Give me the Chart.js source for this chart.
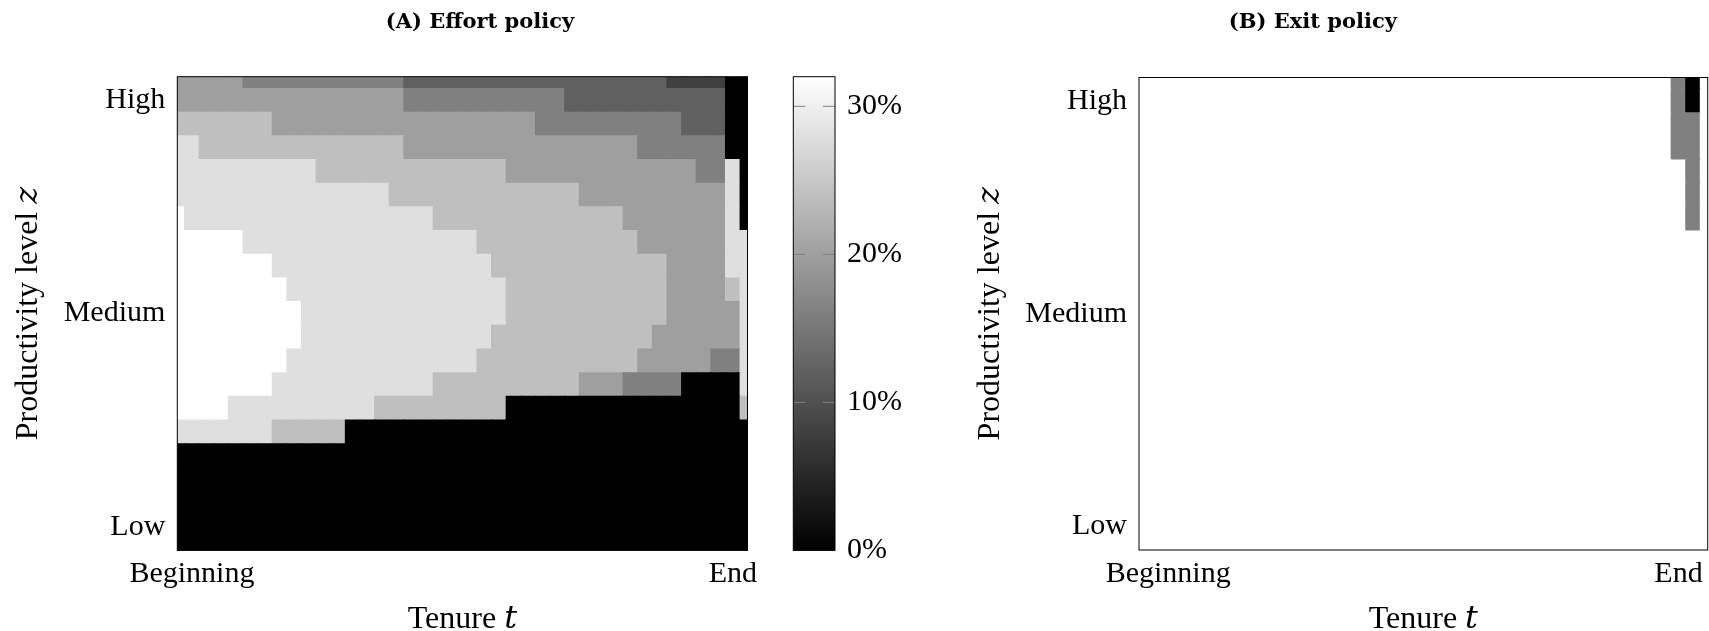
<!DOCTYPE html>
<html>
<head>
<meta charset="utf-8">
<script src="https://cdn.jsdelivr.net/npm/chart.js@4.4.1/dist/chart.umd.min.js"></script>
<style>
  html, body { margin: 0; padding: 0; background: #ffffff; width: 1709px; height: 631px; overflow: hidden; }
  canvas { position: absolute; top: 0; }
  #chartA { left: 0; z-index: 1; }
  #chartB { left: 918px; z-index: 2; }
  #colorbar { left: 760px; z-index: 3; }
</style>
</head>
<body>
<canvas id="chartA" width="960" height="631"></canvas>
<canvas id="chartB" width="791" height="631"></canvas>
<canvas id="colorbar" width="180" height="631"></canvas>
<script>
// ---------------- data ----------------
const tenure = [0,1,2,3,4,5,6,7,8,9,10,11,12,13,14,15,16,17,18,19,20,21,22,23,24,25,26,27,28,29,30,31,32,33,34,35,36,37,38,39];
const productivity = [0,1,2,3,4,5,6,7,8,9,10,11,12,13,14,15,16,17,18,19,20];

const productivityTickValues = [1, 10, 19];
const productivityTickLabels = ['Low', 'Medium', 'High'];
const tenureTickValuesA = [1, 38];
const tenureTickValuesB = [2, 37];
const tenureTickLabels = ['Beginning', 'End'];

const colorbarLimits = [0, 32];          // effort, percent
const colorbarTicks = [0, 10, 20, 30];
const exitLimits = [0, 1];

// Effort policy (percent), one array per productivity level z (20 = top)
const effortZ20 = [20,20,20,20,20,16,16,16,16,16, 16,16,16,16,16,16,12,12,12,12, 12,12,12,12,12,12,12,12,12,12, 12,12,12,12,8,8,8,8,0,0];
const effortZ19 = [20,20,20,20,20,20,20,20,20,20, 20,20,20,20,20,20,16,16,16,16, 16,16,16,16,16,16,16,12,12,12, 12,12,12,12,12,12,12,12,0,0];
const effortZ18 = [24,24,24,24,24,24,24,20,20,20, 20,20,20,20,20,20,20,20,20,20, 20,20,20,20,20,16,16,16,16,16, 16,16,16,16,16,12,12,12,0,0];
const effortZ17 = [28,28,24,24,24,24,24,24,24,24, 24,24,24,24,24,24,20,20,20,20, 20,20,20,20,20,20,20,20,20,20, 20,20,16,16,16,16,16,16,0,0];
const effortZ16 = [28,28,28,28,28,28,28,28,28,28, 24,24,24,24,24,24,24,24,24,24, 24,24,24,20,20,20,20,20,20,20, 20,20,20,20,20,20,16,16,28,0];
const effortZ15 = [28,28,28,28,28,28,28,28,28,28, 28,28,28,28,28,24,24,24,24,24, 24,24,24,24,24,24,24,24,20,20, 20,20,20,20,20,20,20,20,28,0];
const effortZ14 = [32,28,28,28,28,28,28,28,28,28, 28,28,28,28,28,28,28,28,24,24, 24,24,24,24,24,24,24,24,24,24, 24,20,20,20,20,20,20,20,28,0];
const effortZ13 = [32,32,32,32,32,28,28,28,28,28, 28,28,28,28,28,28,28,28,28,28, 28,24,24,24,24,24,24,24,24,24, 24,24,20,20,20,20,20,20,28,28];
const effortZ12 = [32,32,32,32,32,32,32,28,28,28, 28,28,28,28,28,28,28,28,28,28, 28,28,24,24,24,24,24,24,24,24, 24,24,24,24,20,20,20,20,28,28];
const effortZ11 = [32,32,32,32,32,32,32,32,28,28, 28,28,28,28,28,28,28,28,28,28, 28,28,28,24,24,24,24,24,24,24, 24,24,24,24,20,20,20,20,24,28];
const effortZ10 = [32,32,32,32,32,32,32,32,32,28, 28,28,28,28,28,28,28,28,28,28, 28,28,28,24,24,24,24,24,24,24, 24,24,24,24,20,20,20,20,20,28];
const effortZ9  = [32,32,32,32,32,32,32,32,32,28, 28,28,28,28,28,28,28,28,28,28, 28,28,24,24,24,24,24,24,24,24, 24,24,24,20,20,20,20,20,20,28];
const effortZ8  = [32,32,32,32,32,32,32,32,28,28, 28,28,28,28,28,28,28,28,28,28, 28,24,24,24,24,24,24,24,24,24, 24,24,20,20,20,20,20,16,16,28];
const effortZ7  = [32,32,32,32,32,32,32,28,28,28, 28,28,28,28,28,28,28,28,24,24, 24,24,24,24,24,24,24,24,20,20, 20,16,16,16,16,0,0,0,0,28];
const effortZ6  = [32,32,32,32,28,28,28,28,28,28, 28,28,28,28,24,24,24,24,24,24, 24,24,24,0,0,0,0,0,0,0, 0,0,0,0,0,0,0,0,0,24];
const effortZ5  = [28,28,28,28,28,28,28,24,24,24, 24,24,0,0,0,0,0,0,0,0, 0,0,0,0,0,0,0,0,0,0, 0,0,0,0,0,0,0,0,0,0];
const zeroRow   = [0,0,0,0,0,0,0,0,0,0, 0,0,0,0,0,0,0,0,0,0, 0,0,0,0,0,0,0,0,0,0, 0,0,0,0,0,0,0,0,0,0];

// Exit policy (probability of exit), one array per productivity level z
const exitZ20 = [0,0,0,0,0,0,0,0,0,0, 0,0,0,0,0,0,0,0,0,0, 0,0,0,0,0,0,0,0,0,0, 0,0,0,0,0,0,0,0.5,1,0];
const exitZ19 = [0,0,0,0,0,0,0,0,0,0, 0,0,0,0,0,0,0,0,0,0, 0,0,0,0,0,0,0,0,0,0, 0,0,0,0,0,0,0,0.5,1,0];
const exitZ18 = [0,0,0,0,0,0,0,0,0,0, 0,0,0,0,0,0,0,0,0,0, 0,0,0,0,0,0,0,0,0,0, 0,0,0,0,0,0,0,0.5,0.5,0];
const exitZ17 = [0,0,0,0,0,0,0,0,0,0, 0,0,0,0,0,0,0,0,0,0, 0,0,0,0,0,0,0,0,0,0, 0,0,0,0,0,0,0,0.5,0.5,0];
const exitZ16 = [0,0,0,0,0,0,0,0,0,0, 0,0,0,0,0,0,0,0,0,0, 0,0,0,0,0,0,0,0,0,0, 0,0,0,0,0,0,0,0,0.5,0];
const exitZ15 = [0,0,0,0,0,0,0,0,0,0, 0,0,0,0,0,0,0,0,0,0, 0,0,0,0,0,0,0,0,0,0, 0,0,0,0,0,0,0,0,0.5,0];
const exitZ14 = [0,0,0,0,0,0,0,0,0,0, 0,0,0,0,0,0,0,0,0,0, 0,0,0,0,0,0,0,0,0,0, 0,0,0,0,0,0,0,0,0.5,0];

// rows indexed by z (0 = Low end, bottom)
const effortRows = [zeroRow, zeroRow, zeroRow, zeroRow, zeroRow, effortZ5, effortZ6, effortZ7, effortZ8, effortZ9,
  effortZ10, effortZ11, effortZ12, effortZ13, effortZ14, effortZ15, effortZ16, effortZ17, effortZ18, effortZ19, effortZ20];
const exitRows = [zeroRow, zeroRow, zeroRow, zeroRow, zeroRow, zeroRow, zeroRow, zeroRow, zeroRow, zeroRow,
  zeroRow, zeroRow, zeroRow, zeroRow, exitZ14, exitZ15, exitZ16, exitZ17, exitZ18, exitZ19, exitZ20];

// ---------------- styling helpers ----------------
const SERIF = "'Liberation Serif', 'DejaVu Serif', serif";
const tickFont = { family: SERIF, size: 30, lineHeight: 1.2 };
const yTitleFont = { family: SERIF, size: 32, lineHeight: 1 };
const xTitleFont = { family: SERIF, size: 32, lineHeight: 0.7 };
const panelTitleFont = { family: "'DejaVu Serif', serif", size: 21, weight: 'bold', lineHeight: 1.2 };

function grey(frac) {
  const g = Math.round(255 * Math.max(0, Math.min(1, frac)));
  return 'rgb(' + g + ',' + g + ',' + g + ')';
}

function heatDatasets(rows, toFrac) {
  return rows.map((row, zi) => ({
    label: 'z' + productivity[zi],
    data: row.map((v, ti) => ({ x: tenure[ti], y: [productivity[zi] - 0.5, productivity[zi] + 0.5], v: v })),
    backgroundColor: row.map(v => grey(toFrac(v))),
    borderWidth: 0,
    inflateAmount: 0.6,
    grouped: false,
    barPercentage: 1,
    categoryPercentage: 1
  }));
}

const framePlugin = {
  id: 'frame',
  afterDatasetsDraw(chart) {
    const { ctx, chartArea: a } = chart;
    ctx.save();
    ctx.strokeStyle = '#000';
    ctx.lineWidth = 1;
    ctx.strokeRect(a.left, a.top, a.right - a.left, a.bottom - a.top);
    ctx.restore();
  }
};

function heatOptions(cfg) {
  const scales = {
    x: {
      type: 'linear', min: tenure[0], max: tenure[tenure.length - 1], offset: false,
      grid: { display: false, drawTicks: false }, border: { display: false },
      afterBuildTicks: s => { s.ticks = cfg.xTicks.map(v => ({ value: v })); },
      afterFit: s => { s.height = cfg.xAxisHeight; },
      ticks: { autoSkip: false, maxRotation: 0, padding: 6, color: '#000', font: tickFont,
               callback: (v, i) => tenureTickLabels[i] },
      title: { display: true, text: 'Tenure 𝑡', color: '#000', font: xTitleFont, padding: { top: 0, bottom: 0.3 } }
    },
    y: {
      type: 'linear', min: productivity[0], max: productivity[productivity.length - 1],
      grid: { display: false, drawTicks: false }, border: { display: false },
      afterBuildTicks: s => { s.ticks = productivityTickValues.map(v => ({ value: v })); },
      afterFit: s => { s.width = cfg.yAxisWidth; },
      ticks: { autoSkip: false, padding: 12, color: '#000', font: tickFont,
               callback: (v, i) => productivityTickLabels[i] },
      title: { display: true, text: 'Productivity level 𝑧', color: '#000', font: yTitleFont,
               padding: { top: cfg.yTitlePad, bottom: 0 } }
    }
  };
  if (cfg.rightSpace) {
    // empty right-hand margin (room for the colour bar), keeps the title centred on the whole panel
    scales.margin = {
      type: 'linear', position: 'right', display: true,
      grid: { display: false, drawTicks: false }, border: { display: false },
      ticks: { display: false },
      afterFit: s => { s.width = cfg.rightSpace; }
    };
  }
  return {
    responsive: false,
    animation: false,
    events: [],
    layout: { padding: { left: 0, right: cfg.padRight, top: 0, bottom: 0 } },
    plugins: {
      legend: { display: false },
      tooltip: { enabled: false },
      title: {
        display: true, text: cfg.title, color: '#000', font: panelTitleFont,
        padding: { top: 9.5, bottom: cfg.titlePadBottom }
      }
    },
    scales: scales
  };
}

// ---------------- panel A: effort policy ----------------
new Chart(document.getElementById('chartA'), {
  type: 'bar',
  data: { datasets: heatDatasets(effortRows, v => (v - colorbarLimits[0]) / (colorbarLimits[1] - colorbarLimits[0])) },
  options: heatOptions({ title: '(A) Effort policy', titlePadBottom: 42.0, padRight: 0, rightSpace: 212.5,
                         xAxisHeight: 80.6, yAxisWidth: 177.3, yTitlePad: 13, xTicks: tenureTickValuesA }),
  plugins: [framePlugin]
});

// ---------------- panel B: exit policy ----------------
new Chart(document.getElementById('chartB'), {
  type: 'bar',
  data: { datasets: heatDatasets(exitRows, v => 1 - (v - exitLimits[0]) / (exitLimits[1] - exitLimits[0])) },
  options: heatOptions({ title: '(B) Exit policy', titlePadBottom: 42.8, padRight: 1.3, rightSpace: 0,
                         xAxisHeight: 81, yAxisWidth: 221, yTitlePad: 56.5, xTicks: tenureTickValuesB }),
  plugins: [framePlugin]
});

// ---------------- colorbar for panel A ----------------
const colorbarPlugin = {
  id: 'colorbarFrame',
  afterDatasetsDraw(chart) {
    const { ctx, chartArea: a } = chart;
    const y = chart.scales.y;
    ctx.save();
    ctx.strokeStyle = 'rgb(128,128,128)';
    ctx.lineWidth = 1;
    colorbarTicks.forEach(v => {
      if (v === colorbarLimits[0]) return;
      const py = y.getPixelForValue(v);
      ctx.beginPath();
      ctx.moveTo(a.left, py); ctx.lineTo(a.left + 12, py);
      ctx.moveTo(a.right - 12, py); ctx.lineTo(a.right, py);
      ctx.stroke();
    });
    ctx.strokeStyle = '#000';
    ctx.strokeRect(a.left, a.top, a.right - a.left, a.bottom - a.top);
    ctx.restore();
  }
};

new Chart(document.getElementById('colorbar'), {
  type: 'bar',
  data: {
    labels: ['effort'],
    datasets: [{
      data: [colorbarLimits],
      backgroundColor: c => {
        const a = c.chart.chartArea;
        if (!a) return 'rgb(128,128,128)';
        const g = c.chart.ctx.createLinearGradient(0, a.bottom, 0, a.top);
        g.addColorStop(0, '#000000');
        g.addColorStop(1, '#ffffff');
        return g;
      },
      borderWidth: 0,
      barPercentage: 1,
      categoryPercentage: 1
    }]
  },
  options: {
    responsive: false,
    animation: false,
    events: [],
    layout: { padding: { left: 33.3, right: 0, top: 76.7, bottom: 80.6 } },
    plugins: { legend: { display: false }, tooltip: { enabled: false } },
    scales: {
      x: { display: false },
      y: {
        position: 'right', min: colorbarLimits[0], max: colorbarLimits[1],
        grid: { display: false, drawTicks: false }, border: { display: false },
        afterBuildTicks: s => { s.ticks = colorbarTicks.map(v => ({ value: v })); },
        afterFit: s => { s.width = 105; },
        ticks: { padding: 12, color: '#000', font: tickFont, callback: v => v + '%' }
      }
    }
  },
  plugins: [colorbarPlugin]
});
</script>
</body>
</html>
